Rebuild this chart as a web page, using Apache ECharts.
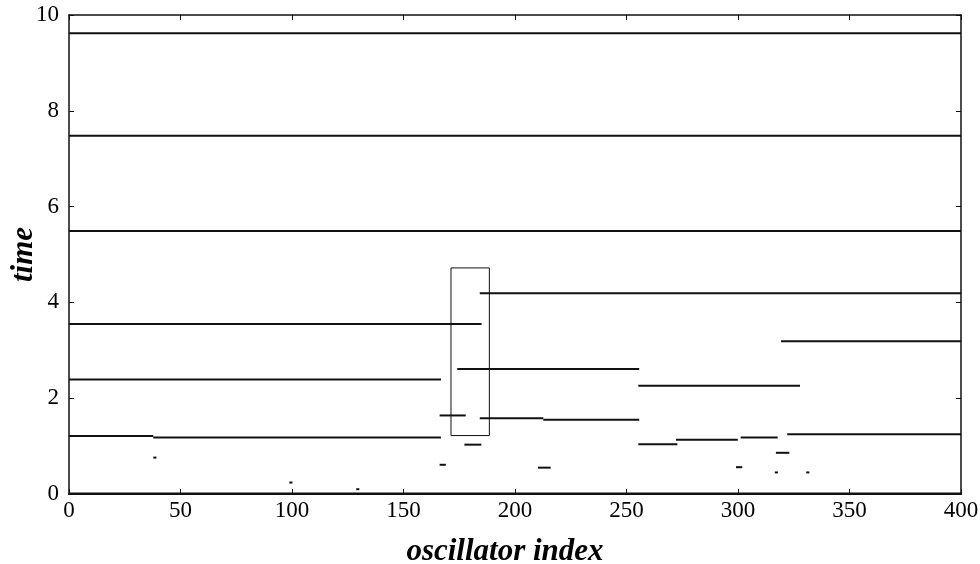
<!DOCTYPE html>
<html>
<head>
<meta charset="utf-8">
<script src="https://cdn.jsdelivr.net/npm/echarts@6/dist/echarts.min.js"></script>
<style>
html,body{margin:0;padding:0;background:#fff;}
#chart{width:980px;height:564px;}
</style>
</head>
<body>
<div id="chart"></div>
<script>
// 水平线段：起点、终点、时间
var segStart = [0, 0, 0, 184.2, 0, 319.3, 174.1, 0, 255.3, 166.2, 184.2, 212.7, 0, 37.8, 322.1, 177.3, 255.3, 272.2, 301.2, 317, 166.2, 210.3, 299.1, 37.8, 98.8, 128.8, 316.5, 330.6, 0];
var segEnd   = [400, 400, 400, 400, 185, 400, 255.7, 166.8, 327.8, 177.9, 212.7, 255.7, 37.8, 166.8, 400, 184.9, 272.8, 299.9, 317.8, 323, 169, 216, 301.9, 39.2, 100.2, 130.2, 317.9, 332, 400];
var segTime  = [9.62, 7.48, 5.49, 4.19, 3.55, 3.19, 2.61, 2.39, 2.26, 1.64, 1.58, 1.55, 1.21, 1.18, 1.25, 1.03, 1.04, 1.13, 1.18, 0.86, 0.61, 0.55, 0.56, 0.76, 0.24, 0.1, 0.45, 0.45, 0.01];

// 方框
var boxX = [171.3, 188.5];
var boxY = [1.22, 4.72];

var xTicks = [0, 400, 50];
var yTicks = [0, 10, 2];

var font = 'Liberation Serif';

function makeSegments() {
    var list = [];
    for (var i = 0; i < segTime.length; i++) {
        list.push({
            type: 'line',
            symbol: 'none',
            silent: true,
            animation: false,
            data: [[segStart[i], segTime[i]], [segEnd[i], segTime[i]]],
            lineStyle: { color: '#111', width: 2 }
        });
    }
    list.push({
        type: 'line',
        symbol: 'none',
        silent: true,
        animation: false,
        data: [[boxX[0], boxY[0]], [boxX[1], boxY[0]], [boxX[1], boxY[1]], [boxX[0], boxY[1]], [boxX[0], boxY[0]]],
        lineStyle: { color: '#111', width: 1 }
    });
    // 让上、右坐标轴也有数据
    list.push({
        type: 'line',
        symbol: 'none',
        silent: true,
        animation: false,
        xAxisIndex: 1,
        yAxisIndex: 1,
        data: [[0, 0]],
        lineStyle: { opacity: 0 }
    });
    return list;
}

function frameAxis(pos) {
    return {
        type: 'value',
        position: pos,
        axisLine: { show: true, onZero: false, lineStyle: { color: '#111', width: 1.5 } },
        axisTick: { show: true, inside: true, length: 5, lineStyle: { color: '#111' } },
        axisLabel: { show: false },
        splitLine: { show: false }
    };
}

var container = echarts.init(document.getElementById('chart'));
var topAxis = frameAxis('top');
topAxis.min = xTicks[0]; topAxis.max = xTicks[1]; topAxis.interval = xTicks[2];
var rightAxis = frameAxis('right');
rightAxis.min = yTicks[0]; rightAxis.max = yTicks[1]; rightAxis.interval = yTicks[2];

var option = {
    backgroundColor: '#fff',
    grid: { left: 69, right: 19, top: 15, bottom: 70, containLabel: false, outerBoundsMode: 'none' },
    xAxis: [
        {
            type: 'value',
            min: xTicks[0], max: xTicks[1], interval: xTicks[2],
            name: 'oscillator index',
            nameLocation: 'middle',
            nameGap: 42,
            nameMoveOverlap: false,
            nameTextStyle: { fontFamily: font, fontSize: 31, fontWeight: 'bold', fontStyle: 'italic', color: '#000', padding: [0, 20, 0, 0] },
            axisLine: { onZero: false, lineStyle: { color: '#111', width: 2 } },
            axisTick: { inside: true, length: 5, lineStyle: { color: '#111' } },
            axisLabel: { fontFamily: font, fontSize: 23, color: '#000', margin: 5 },
            splitLine: { show: false }
        },
        topAxis
    ],
    yAxis: [
        {
            type: 'value',
            min: yTicks[0], max: yTicks[1], interval: yTicks[2],
            name: 'time',
            nameLocation: 'middle',
            nameGap: 30,
            nameMoveOverlap: false,
            nameTextStyle: { fontFamily: font, fontSize: 31, fontWeight: 'bold', fontStyle: 'italic', color: '#000' },
            axisLine: { show: true, onZero: false, lineStyle: { color: '#111', width: 1.5 } },
            axisTick: { show: true, inside: true, length: 5, lineStyle: { color: '#111' } },
            axisLabel: { fontFamily: font, fontSize: 23, color: '#000', margin: 10 },
            splitLine: { show: false }
        },
        rightAxis
    ],
    series: makeSegments()
};
container.setOption(option);
</script>
</body>
</html>
